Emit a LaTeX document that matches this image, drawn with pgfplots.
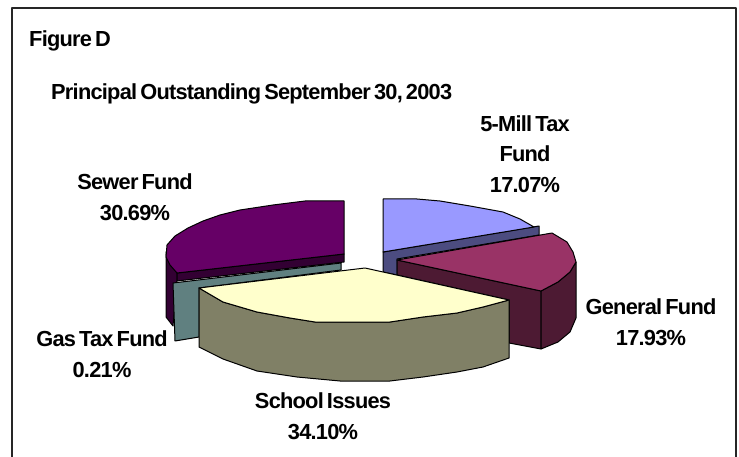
\documentclass[border=0pt]{standalone}
\usepackage{pgfplots}
\pgfplotsset{compat=1.18}
\usepackage{fontspec}
\setmainfont{Liberation Sans}
\newfontfamily\lbl[LetterSpace=-3.5,WordSpace=0.6]{Liberation Sans}

% slice outlines, in pixels of the 739x457 image
\definecolor{millTop}{RGB}{153,153,255}
\definecolor{millSide}{RGB}{76,76,128}
\definecolor{genTop}{RGB}{153,51,102}
\definecolor{genSide}{RGB}{77,26,51}
\definecolor{schoolTop}{RGB}{255,255,204}
\definecolor{schoolSide}{RGB}{128,128,102}
\definecolor{gasSide}{RGB}{96,128,128}
\definecolor{sewerTop}{RGB}{102,0,102}
\definecolor{sewerSide}{RGB}{51,0,51}

\begin{document}
\begin{tikzpicture}
\begin{axis}[
    width=739pt,
    height=457pt,
    scale only axis,
    hide axis,
    xmin=0,xmax=739,
    ymin=0,ymax=457,
    y dir=reverse,
    clip=false,
    every axis plot/.append style={draw=black,line width=1pt,line join=round}
]
% page size
\path[use as bounding box] (axis cs:0,0) rectangle (axis cs:739,457);
% frame
\addplot[draw=black!85,line width=1.4pt,forget plot] coordinates {(12,457) (12,8) (736,8) (736,457)};

% sewer fund
\addplot[fill=sewerSide] coordinates {(166,252) (166,317) (173,326) (177,281) (177,273)} --cycle;
\addplot[fill=sewerSide] coordinates {(177,273) (344,254) (344,262) (177,281)} --cycle;
\addplot[fill=sewerTop] coordinates {(344,201) (344,254) (177,273) (170,265) (166,257) (167,245) (175,236) (188,228) (203,221) (220,215) (240,210) (273,205) (305,201)} --cycle;

% gas tax
\addplot[fill=gasSide] coordinates {(173,283) (341,263) (341,270) (199,288) (199,337) (175,341)} --cycle;

% 5-mill
\addplot[fill=millSide] coordinates {(383,252) (533,227) (539,226) (539,235) (397,259) (397,275) (383,272)} --cycle;
\addplot[fill=millTop] coordinates {(383,199) (417,199) (440,201) (470,206) (503,212) (520,219) (534,227) (383,252)} --cycle;

% general fund
\addplot[fill=genSide] coordinates {(397,260) (541,291) (541,349) (509,343) (509,300) (397,275)} --cycle;
\addplot[fill=genSide] coordinates {(541,291) (558,282) (570,272) (576,262) (576,318) (570,332) (558,342) (541,349)} --cycle;
\addplot[fill=genTop] coordinates {(397,260) (552,233) (567,242) (573,252) (576,262) (570,272) (558,282) (541,291)} --cycle;

% school issues
\addplot[fill=schoolSide] coordinates {(199,288) (223,302) (257,312) (290,318) (315,322) (340,322) (390,322) (423,317) (457,313) (483,307) (509,300) (509,358) (483,367) (457,372) (423,377) (390,381) (340,381) (297,377) (257,371) (223,359) (199,347)} --cycle;
\addplot[fill=schoolTop] coordinates {(199,288) (365,268) (509,300) (483,307) (457,313) (423,317) (390,322) (340,322) (315,322) (290,318) (257,312) (223,302)} --cycle;

% labels
\begin{scope}[every node/.style={font=\fontsize{21.8}{30.5}\bfseries\lbl,align=center,inner sep=0pt}]
\node[anchor=west] at (axis cs:29,41) {Figure D};
\node[anchor=west] at (axis cs:51,94) {Principal Outstanding September 30, 2003};
\node at (axis cs:525,154) {5-Mill Tax\\Fund\\17.07\%};
\node at (axis cs:135,197) {Sewer Fund\\30.69\%};
\node at (axis cs:651,322) {General Fund\\17.93\%};
\node at (axis cs:102,354) {Gas Tax Fund\\0.21\%};
\node at (axis cs:323,416) {School Issues\\34.10\%};
\end{scope}
\end{axis}
\end{tikzpicture}
\end{document}
